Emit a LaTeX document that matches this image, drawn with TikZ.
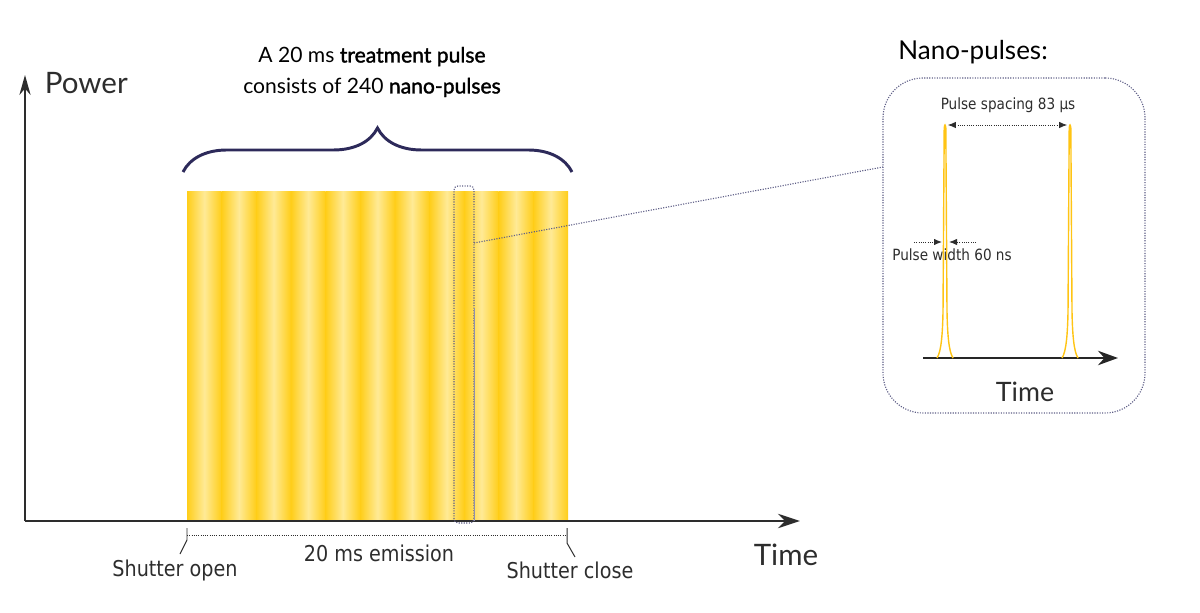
\documentclass[tikz,border=0pt]{standalone}
\usepackage{fontspec}
\setmainfont{Lato}
\newfontfamily\labelfont[FakeStretch=0.88]{DejaVu Sans}
\newfontfamily\semibold[FakeBold=1.6]{Lato}
\usetikzlibrary{arrows.meta,
  decorations.pathreplacing,
  positioning
}
\definecolor{stripegold}{RGB}{255,200,0}
\definecolor{stripelight}{RGB}{255,234,150}
\definecolor{pulsegold}{RGB}{255,196,20}
\definecolor{bracenavy}{RGB}{45,42,90}
\definecolor{zoomgrey}{RGB}{95,95,135}
\definecolor{axisgrey}{RGB}{45,45,45}
\pgfdeclarehorizontalshading{goldstripe}{100bp}{color(0bp)=(stripegold); color(20bp)=(stripegold); color(50bp)=(stripelight); color(80bp)=(stripegold); color(100bp)=(stripegold)}

\tikzset{
  axisline/.style={draw=axisgrey,line width=1.4pt},
  zoomline/.style={draw=zoomgrey,densely dotted,line width=0.8pt},
  pulseline/.style={draw=pulsegold,line width=1pt},
  dimline/.style={draw=axisgrey,densely dotted,line width=0.6pt},
  smalllabel/.style={font=\labelfont\fontsize{11}{13}\selectfont,text=axisgrey},
  shutterlabel/.style={font=\labelfont\fontsize{15.5}{18}\selectfont,text=axisgrey}
}

\begin{document}
\begin{tikzpicture}[x=0.025cm,y=0.025cm]
  \useasboundingbox (0,0) rectangle (1200,612);

  % striped 20 ms pulse
  \fill[stripegold] (187,91) rectangle (568,420);
  \foreach \i in {0,...,10}
    \shade[shading=goldstripe] ({187+\i*34.636},91) rectangle ++(34.636,329);

  % axes
  \coordinate (origin) at (25,91);
  \coordinate (ytip) at (25,537);
  \coordinate (xtip) at (800,91);
  \draw[axisline,-{Stealth[length=5mm,width=2.8mm]}] (origin) -- (ytip);
  \draw[axisline,-{Stealth[length=5.5mm,width=3.6mm]}] (origin) -- (xtip);
  \node[anchor=west,font=\fontsize{21}{25}\selectfont,text=axisgrey] (power) at (40,529) {Power};
  \node[font=\fontsize{21}{25}\selectfont,text=axisgrey] (time) at (786,57) {Time};

  % brace and title
  \draw[bracenavy,line width=2.1pt,decorate,decoration={brace,amplitude=1.1cm}]
    (183,440) -- (572,440);
  \node[align=center,font=\fontsize{15}{22}\selectfont] (title) at (372,540)
    {A 20 ms {\semibold treatment pulse}\\ consists of 240 {\semibold nano-pulses}};

  % emission length
  \coordinate (openA) at (187,84);
  \coordinate (closeA) at (567,84);
  \draw[axisgrey,line width=0.7pt] (openA) -- ++(0,-12) -- ++(-7,-14);
  \draw[axisgrey,line width=0.7pt] (closeA) -- ++(0,-15) -- ++(8,-14);
  \draw[dimline] (187,77) -- (567,77);
  \node[shutterlabel] (open) at (175,42) {Shutter open};
  \node[shutterlabel] (emission) at (379,59) {20 ms emission};
  \node[shutterlabel] (close) at (570,42) {Shutter close};

  % selected nano-pulse
  \draw[zoomline,rounded corners=0.1cm] (454,89) rectangle (474,426);
  \draw[draw=zoomgrey!70,line width=0.7pt] (474,91) -- (474,304);

  % zoomed view
  \node[zoomline,rounded corners=1cm,minimum width=262*0.025cm,
    minimum height=335*0.025cm] (nanobox) at (1014,366.5) {};
  \node[font=\fontsize{18.5}{22}\selectfont] (nanotitle) at (973,560) {Nano-pulses:};
  \coordinate (zoomfrom) at (474,369);
  \coordinate (zoomto) at (883,445);
  \draw[zoomline] (zoomfrom) -- (zoomto);

  \coordinate (inaxis) at (923,254);
  \coordinate (intip) at (1118,254);
  \draw[draw=black!85,line width=1.8pt,-{Stealth[length=5mm,width=3.6mm]}] (inaxis) -- (intip);
  \node[font=\fontsize{19}{23}\selectfont,text=axisgrey] (intime) at (1025,220) {Time};

  \node[smalllabel] (spacing) at (1008,507) {Pulse spacing 83 µs};
  \node[smalllabel] (width) at (952,357) {Pulse width 60 ns};

  \foreach \px/\nm in {945/pulseA,1070/pulseB} {
    \draw[pulseline] ({\px-8},254) .. controls ({\px-4},260) and ({\px-2.5},276) .. ({\px-2},300)
      -- ({\px-0.8},484) .. controls ({\px-0.3},488) and ({\px+0.3},488) .. ({\px+0.8},484)
      -- ({\px+2},300) .. controls ({\px+2.5},276) and ({\px+4},260) .. ({\px+8},254);
    \coordinate (\nm) at (\px,487);
  }
  \draw[dimline,{Latex[length=2mm,width=1.6mm]}-{Latex[length=2mm,width=1.6mm]},shorten <=2pt,shorten >=2pt]
    (pulseA) -- (pulseB);
  \coordinate (wleft) at (914,370);
  \coordinate (wright) at (976,370);
  \draw[dimline,-{Latex[length=2mm,width=1.6mm]}] (wleft) -- (942,370);
  \draw[dimline,-{Latex[length=2mm,width=1.6mm]}] (wright) -- (949,370);
\end{tikzpicture}
\end{document}
